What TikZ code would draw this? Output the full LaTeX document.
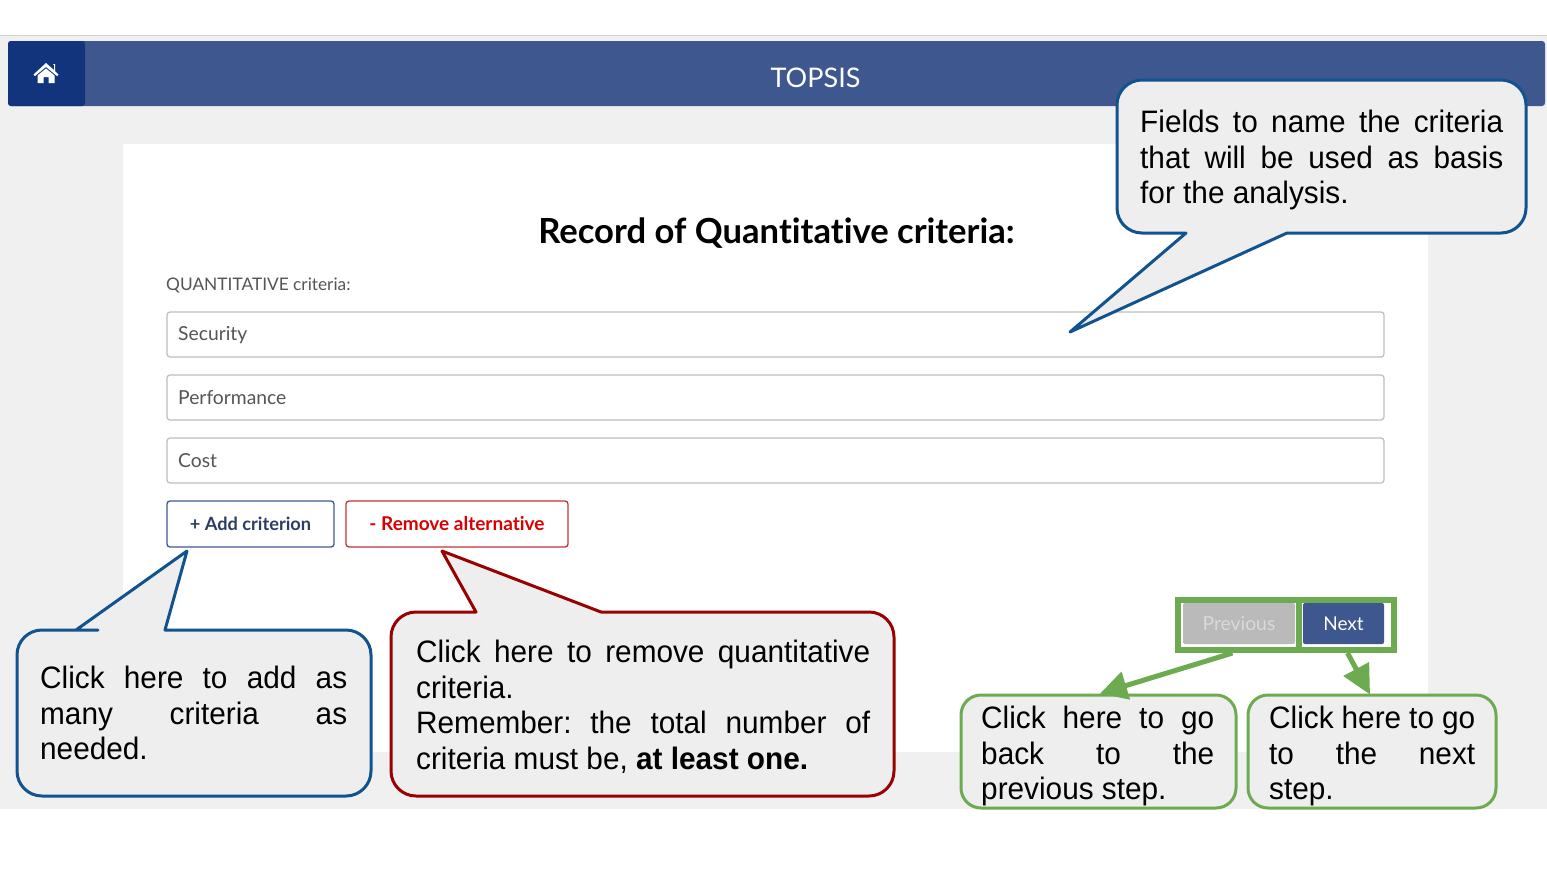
\documentclass[tikz,border=0pt]{standalone}
\usepackage{fontspec}
\usetikzlibrary{arrows.meta,calc}
\setmainfont{Liberation Sans}
\newfontfamily\uifont[Ligatures=NoCommon]{Lato}
\newfontfamily\callfont[FakeStretch=0.96]{Liberation Sans}
\definecolor{pagebg}{HTML}{F0F0F0}
\definecolor{navblue}{HTML}{3F578F}
\definecolor{homeblue}{HTML}{12347C}
\definecolor{callblue}{HTML}{10538F}
\definecolor{callred}{HTML}{990000}
\definecolor{callgreen}{HTML}{6CAB50}
\definecolor{callfill}{HTML}{EEEEEE}
\definecolor{fieldline}{HTML}{BDBDBD}
\definecolor{uitext}{HTML}{555555}
\newcommand{\jl}[2]{\makebox[#1pt][s]{#2}}
\frenchspacing
\tikzset{
  calltext/.style={anchor=north west,inner sep=0pt,align=left,font=\callfont\frenchspacing\fontsize{31}{35.5}\selectfont,text=black},
  bubble/.style={fill=callfill,line width=3pt,line join=round},
  fieldbox/.style={draw=fieldline,fill=white,line width=1.2pt,rounded corners=3pt,minimum width=1217pt,minimum height=45pt,inner sep=0pt},
  fieldtext/.style={anchor=west,inner sep=0pt,font=\uifont\fontsize{19.3}{22}\selectfont,text=uitext},
  greenbubble/.style={draw=callgreen,fill=callfill,line width=3pt,rounded corners=20pt,inner sep=0pt,minimum height=113pt},
  greenarrow/.style={draw=callgreen,line width=5pt}
}
\begin{document}
\begin{tikzpicture}[x=1pt,y=-1pt]
\useasboundingbox (0,0) rectangle (1547,868);
% page
\fill[white] (0,0) rectangle (1547,868);
\fill[pagebg] (0,36) rectangle (1547,808.5);
\fill[fieldline!70] (0,34.5) rectangle (1547,36);
\fill[white] (123,144) rectangle (1428,752);
% nav bar
\fill[navblue,rounded corners=3pt] (8,41) rectangle (1545,106);
\fill[homeblue,rounded corners=3pt] (8,41) rectangle (85,106);
\fill[white] (46,63) -- (54,70) -- (54,64.5) -- (53,64.5) -- (53,64) -- (55,64) -- (55,71) -- (58.5,74.5) -- (57,76) -- (46,67) -- (35,76) -- (33.5,74.5) -- cycle;
\fill[white] (37.5,75.5) -- (46,68.5) -- (54.5,75.5) -- (54.5,83) -- (48.5,83) -- (48.5,77) -- (43.5,77) -- (43.5,83) -- (37.5,83) -- cycle;
\node[inner sep=0pt,font=\uifont\fontsize{27}{30}\selectfont,text=white] (title) at (815.5,78) {TOPSIS};
% form
\node[inner sep=0pt,font=\uifont\bfseries\fontsize{34.6}{40}\selectfont,text=black] (heading) at (776.5,233) {Record of Quantitative criteria:};
\node[anchor=west,inner sep=0pt,font=\uifont\fontsize{17.3}{22}\selectfont,text=uitext] (qlabel) at (166,285) {QUANTITATIVE criteria:};
\node[fieldbox] (f1) at (775.5,334.5) {};
\node[fieldbox] (f2) at (775.5,397.5) {};
\node[fieldbox] (f3) at (775.5,460.5) {};
\node[fieldtext] (t1) at (178,335.5) {Security};
\node[fieldtext] (t2) at (178,398) {Performance};
\node[fieldtext] (t3) at (178,461) {Cost};
\node[draw=navblue,fill=white,line width=1.3pt,rounded corners=3pt,minimum width=167pt,minimum height=46pt,inner sep=0pt,text=navblue!70!black,font=\uifont\bfseries\fontsize{18.2}{22}\selectfont] (add) at (250.5,524) {\raisebox{1pt}{+ Add criterion}};
\node[draw=red!70!black!80,fill=white,line width=1.3pt,rounded corners=3pt,minimum width=222pt,minimum height=46pt,inner sep=0pt,text=red!85!black,font=\uifont\bfseries\fontsize{19}{22}\selectfont] (rem) at (457,524) {\raisebox{1pt}{- Remove alternative}};
% prev / next
\node[fill=black!27,rounded corners=2pt,minimum width=112pt,minimum height=41pt,inner sep=0pt,text=white!85!black,font=\uifont\fontsize{19.3}{22}\selectfont] (prev) at (1239,623.5) {Previous};
\node[fill=navblue,rounded corners=2pt,minimum width=81pt,minimum height=41pt,inner sep=0pt,text=white,font=\uifont\fontsize{19}{22}\selectfont] (next) at (1343.5,623.5) {Next};
\node[draw=callgreen,line width=6pt,minimum width=216pt,minimum height=50pt,inner sep=0pt] (group) at (1285.5,625) {};
\draw[callgreen,line width=6pt] (group.north west -| 1299,0) -- (group.south west -| 1299,0);
% callouts
\draw[callblue,bubble] (76,630) -- (187,551) -- (165,630) [rounded corners=25pt] -- (371,630) -- (371,796) -- (17,796) -- (17,630) -- (73,630) [sharp corners] -- cycle;
\node[calltext] (blue) at (40,666) {\jl{307}{Click here to add as}\\\jl{307}{many criteria as}\\needed.};
\draw[callred,bubble] (601,612) -- (442,551) -- (476,612) [rounded corners=25pt] -- (391,612) -- (391,796) -- (894,796) -- (894,612) -- (640,612) [sharp corners] -- cycle;
\node[calltext] (red) at (416,640) {\jl{454}{Click here to remove quantitative}\\criteria.\\\jl{454}{Remember: the total number of}\\criteria must be, \textbf{at least one.}};
\draw[callblue,bubble] (1287,233) -- (1070,332) -- (1186,233) [rounded corners=25pt] -- (1117,233) -- (1117,80) -- (1526,80) -- (1526,233) -- (1320,233) [sharp corners] -- cycle;
\node[calltext] (top) at (1140,110) {\jl{363}{Fields to name the criteria}\\\jl{363}{that will be used as basis}\\for the analysis.};
\node[greenbubble,minimum width=275pt] (gprev) at (1098.5,751.5) {};
\node[calltext] (gprevt) at (981,706) {\jl{233}{Click here to go}\\\jl{233}{back to the}\\previous step.};
\node[greenbubble,minimum width=248pt] (gnext) at (1372,751.5) {};
\node[calltext] (gnextt) at (1269,706) {\jl{206}{Click here to go}\\\jl{206}{to the next}\\step.};
\draw[greenarrow,-{Triangle[length=27pt,width=28pt]}] ([xshift=58pt]group.south west) -- ([xshift=1.5pt]gprev.north);
\draw[greenarrow,-{Triangle[length=29pt,width=28pt]}] ([xshift=173pt]group.south west) -- ([xshift=-2pt,yshift=-1pt]gnext.north);
\end{tikzpicture}
\end{document}
